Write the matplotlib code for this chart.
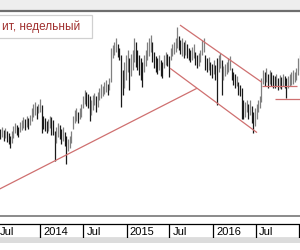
import matplotlib
matplotlib.use("Agg")
import matplotlib.pyplot as plt
from matplotlib.patches import Rectangle
import pandas as pd

# weekly bars, Jul 2013 .. Jan 2017 (arbitrary price units, no scale in the picture)
weeks = pd.date_range("2013-07-15", periods=182, freq="7D")

highs = [122, 124, 121, 123, 120, 118, 115, 120, 125, 128, 126, 124, 129, 131, 134, 132,
         135, 133, 136, 142, 146, 148, 144, 146, 151, 145, 135, 133, 130, 132, 135, 134,
         131, 120, 124, 128, 126, 122, 124, 119, 115, 112, 115, 120, 135, 140, 142, 138,
         142, 146, 154, 160, 158, 156, 154, 150, 155, 157, 154, 158, 162, 166, 164, 168,
         170, 166, 172, 202, 205, 208, 212, 206, 202, 195, 180, 188, 195, 200, 192, 196,
         200, 212, 208, 200, 195, 192, 188, 195, 200, 208, 212, 215, 208, 198, 194, 192,
         195, 190, 188, 195, 198, 196, 194, 202, 206, 208, 212, 223, 214, 210, 212, 208,
         210, 206, 202, 200, 203, 206, 198, 195, 197, 200, 210, 212, 195, 192, 193, 188,
         186, 190, 185, 192, 195, 197, 190, 184, 186, 188, 192, 194, 182, 178, 176, 174,
         168, 165, 162, 150, 148, 150, 146, 150, 144, 138, 142, 146, 150, 154, 172, 180,
         178, 182, 176, 180, 178, 175, 174, 176, 172, 175, 173, 176, 174, 172, 174, 176,
         178, 180, 178, 182, 192, 195]
lows = [112, 114, 110, 113, 109, 107, 103, 108, 113, 118, 116, 114, 119, 121, 123, 121,
        124, 122, 126, 130, 134, 136, 132, 137, 138, 118, 122, 120, 118, 120, 123, 116,
        116, 90, 108, 114, 112, 107, 110, 105, 87, 100, 103, 108, 122, 128, 130, 128,
        132, 134, 142, 146, 144, 142, 130, 136, 140, 145, 138, 143, 150, 152, 154, 156,
        158, 155, 160, 168, 192, 195, 198, 193, 190, 143, 155, 162, 170, 178, 160, 174,
        180, 188, 183, 180, 175, 170, 163, 178, 184, 190, 194, 198, 188, 182, 178, 176,
        180, 174, 172, 182, 185, 184, 173, 190, 194, 196, 198, 202, 200, 196, 194, 192,
        195, 192, 190, 188, 190, 192, 185, 182, 184, 188, 195, 198, 180, 178, 180, 175,
        172, 176, 170, 145, 178, 182, 155, 170, 174, 176, 178, 180, 170, 165, 162, 164,
        155, 154, 132, 132, 134, 138, 132, 136, 128, 118, 125, 132, 138, 142, 148, 166,
        164, 168, 162, 166, 164, 162, 162, 164, 160, 162, 161, 164, 162, 152, 162, 164,
        165, 166, 168, 170, 175, 180]

# analyst lines: (start date, start price, end date, end price)
trend_lines = [
    ("2013-07-01", 60.5, "2015-10-25", 162),   # long support
    ("2015-07-04", 182, "2016-07-06", 118),    # channel bottom
    ("2015-08-15", 225, "2016-07-27", 168),    # channel top
    ("2016-07-27", 164, "2016-12-24", 164),    # horizontal
    ("2016-09-20", 151, "2017-01-06", 151),    # horizontal
]

section_starts = ["2013-07-01", "2014-01-01", "2014-07-01", "2015-01-01",
                  "2015-07-01", "2016-01-01", "2016-07-01", "2017-01-01"]
section_labels = ["Jul", "2014", "Jul", "2015", "Jul", "2016", "Jul", ""]

TITLE = "ит, недельный"
RED = "#cf7070"
FONT = ["Liberation Sans", "DejaVu Sans"]

x_left = pd.Timestamp("2013-07-14")
x_right = pd.Timestamp("2017-01-04")

fig = plt.figure(figsize=(3, 2.5), dpi=100)
fig.patch.set_facecolor("white")

# top strip
fig.patches.append(Rectangle((0, 1 - 10 / 250), 1, 10 / 250, transform=fig.transFigure,
                             facecolor="#eeeeee", edgecolor="none"))
fig.add_artist(plt.Line2D([0, 1], [1 - 11 / 250] * 2, transform=fig.transFigure,
                          color="#6e6e6e", lw=1.6))

# main price area
ax = fig.add_axes([0, 1 - 216 / 250, 1, (216 - 12) / 250])
ax.set_xlim(x_left, x_right)
ax.set_ylim(35, 238)
for s in ["top", "left", "right"]:
    ax.spines[s].set_visible(False)
ax.spines["bottom"].set_color("#8a8a8a")
ax.spines["bottom"].set_linewidth(1.4)
ax.set_xticks([])
ax.set_yticks([])

mids = [(h + l) / 2 for h, l in zip(highs, lows)]
for i, (d, h, l) in enumerate(zip(weeks, highs, lows)):
    up = i > 0 and mids[i] >= mids[i - 1]
    ax.vlines(d, l, h, color="#808080" if up else "#1a1a1a", lw=0.9)

for d0, p0, d1, p1 in trend_lines:
    ax.plot([pd.Timestamp(d0), pd.Timestamp(d1)], [p0, p1], color=RED, lw=0.9,
            solid_capstyle="butt")

# title box
fig.patches.append(Rectangle((-0.02, 1 - 38 / 250), 0.02 + 92 / 300, 23 / 250,
                             transform=fig.transFigure, facecolor="white",
                             edgecolor="#d0d0d0", lw=0.9, zorder=5))
fig.text(2 / 300, 1 - 27 / 250, TITLE, color="#a0302f", fontsize=8.5, family=FONT,
         va="center", ha="left", zorder=6)

# date label strip
lab = fig.add_axes([0, 1 - 238 / 250, 1, 14 / 250])
lab.set_xlim(x_left, x_right)
lab.set_ylim(0, 1)
lab.set_xticks([])
lab.set_yticks([])
for s in ["left", "right"]:
    lab.spines[s].set_visible(False)
for s in ["top", "bottom"]:
    lab.spines[s].set_color("black")
    lab.spines[s].set_linewidth(0.9)
for d, txt in zip(section_starts, section_labels):
    t = pd.Timestamp(d)
    lab.axvline(t, color="black", lw=0.9)
    lab.text(t + pd.Timedelta(days=14), 0.45, txt, fontsize=8, family=FONT,
             va="center", ha="left", color="black")

# shadow under the strip
fig.patches.append(Rectangle((0, 1 - 243 / 250), 1, 5 / 250, transform=fig.transFigure,
                             facecolor="#dcdcdc", edgecolor="none"))

fig.savefig("out.png", dpi=100)
